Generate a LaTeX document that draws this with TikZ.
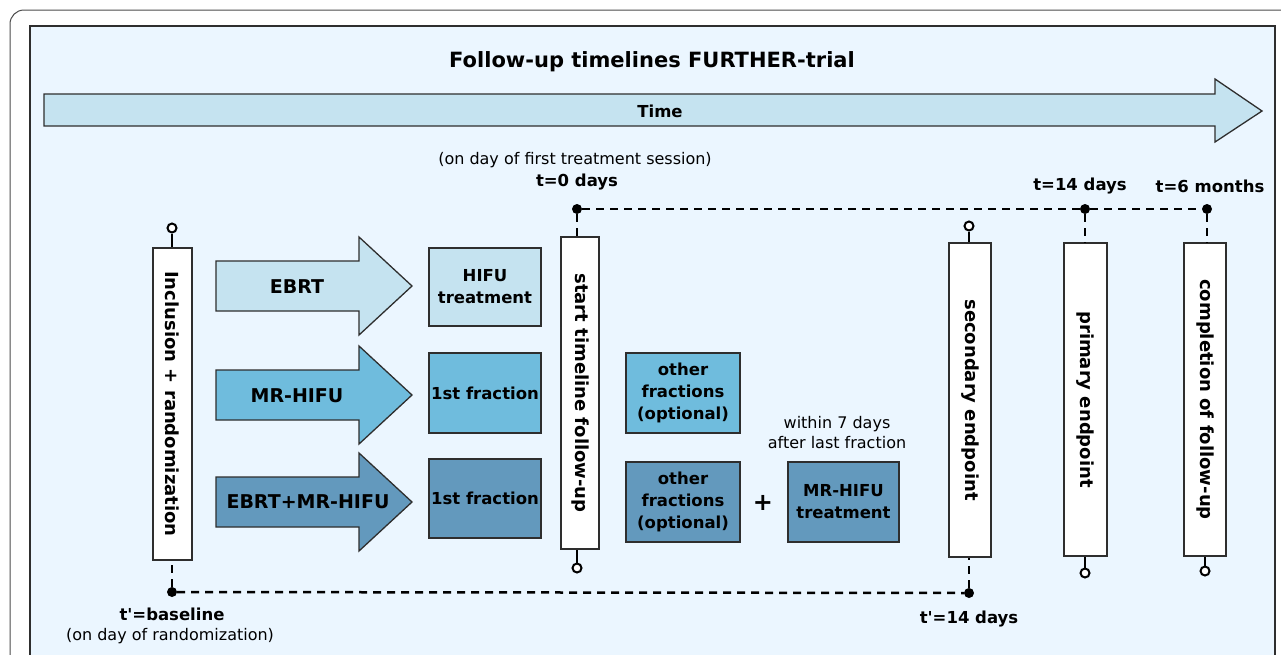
\documentclass[tikz,border=0pt]{standalone}
\usepackage{fontspec}
\setmainfont{DejaVu Sans}[Ligatures=TeXOff]
\usepackage{xcolor}
\definecolor{bgblue}{HTML}{EBF6FF}
\definecolor{lightarm}{HTML}{C5E3F0}
\definecolor{midarm}{HTML}{6FBCDD}
\definecolor{darkarm}{HTML}{6399BD}
\definecolor{edge}{HTML}{2E2E2E}
\tikzset{
	armshape/.style={draw=edge, line width=1.3pt},
	armtext/.style={font=\fontsize{19}{23}\selectfont\bfseries},
	stepbox/.style={draw=edge, line width=1.3pt, align=center, inner sep=0pt,
			font=\fontsize{16.5}{22}\selectfont\bfseries},
	tlbox/.style={draw=edge, fill=white, line width=1.3pt, rotate=-90, inner sep=0pt,
			font=\fontsize{18}{22}\selectfont\bfseries},
	dot/.style={circle, fill=black, inner sep=0pt, minimum size=10pt},
	opendot/.style={circle, draw=black, fill=white, line width=2pt, inner sep=0pt, minimum size=9pt},
	dashline/.style={dash pattern=on 8pt off 6pt, line width=2.5pt},
	solidline/.style={line width=2.5pt},
	notelabel/.style={font=\fontsize{16}{20}\selectfont},
	boldlabel/.style={font=\fontsize{16.5}{20}\selectfont\bfseries}
}
\usepackage{tikz}

\begin{document}
\begin{tikzpicture}[x=1pt, y=-1pt]
	\useasboundingbox (0,0) rectangle (1281,654);
	\clip (0,0) rectangle (1281,654);

	% frames
	\draw [gray!60!black, line width=1pt, rounded corners=14pt] (10,10) rectangle (1330,700);
	\filldraw [fill=bgblue, draw=edge, line width=1.2pt] (30,26) rectangle (1275,700);

	\node [boldlabel, font=\fontsize{21}{25}\selectfont\bfseries] (title) at (652,62) {Follow-up timelines FURTHER-trial};

	% time axis
	\filldraw [fill=lightarm, armshape]	(44,94) -- (1215,94) -- (1215,79) -- (1262,111)
						-- (1215,142) -- (1215,126) -- (44,126) -- cycle;
	\node [boldlabel] (time) at (660,111) {Time};

	% treatment arms
	\filldraw [fill=lightarm, armshape]	(216,261) -- ++(143,0) -- ++(0,-24) -- ++(53,49)
						-- ++(-53,49) -- ++(0,-24) -- ++(-143,0) -- cycle;
	\filldraw [fill=midarm, armshape]	(216,370) -- ++(143,0) -- ++(0,-24) -- ++(53,49)
						-- ++(-53,49) -- ++(0,-24) -- ++(-143,0) -- cycle;
	\filldraw [fill=darkarm, armshape]	(216,477) -- ++(143,0) -- ++(0,-24) -- ++(53,49)
						-- ++(-53,49) -- ++(0,-24) -- ++(-143,0) -- cycle;
	\node [armtext] (ebrt) at (297,287) {EBRT};
	\node [armtext] (mrhifu) at (297,396) {MR-HIFU};
	\node [armtext] (combo) at (308,502) {EBRT+MR-HIFU};

	\node [stepbox, fill=lightarm, minimum width=112pt, minimum height=78pt] (hifu) at (485,287) {HIFU\\treatment};
	\node [stepbox, fill=midarm, minimum width=112pt, minimum height=80pt] (firstmr) at (485,393) {1st fraction};
	\node [stepbox, fill=darkarm, minimum width=112pt, minimum height=79pt] (firstcombo) at (485,498.5) {1st fraction};
	\node [stepbox, fill=midarm, minimum width=114pt, minimum height=80pt] (othermr) at (683,393) {other\\fractions\\(optional)};
	\node [stepbox, fill=darkarm, minimum width=114pt, minimum height=80pt] (othercombo) at (683,502) {other\\fractions\\(optional)};
	\node [font=\fontsize{24}{24}\selectfont\bfseries] (plus) at (763,503) {+};
	\node [stepbox, fill=darkarm, minimum width=111pt, minimum height=80pt] (mrtreat) at (843.5,502) {MR-HIFU\\treatment};
	\node [notelabel, align=center] (within) at (837,433) {within 7 days\\after last fraction};

	% timeline boxes
	\node [tlbox, minimum width=312pt, minimum height=39pt] (incl) at (172.5,404) {Inclusion + randomization};
	\node [tlbox, minimum width=312pt, minimum height=38pt] (start) at (580,393) {start timeline follow-up};
	\node [tlbox, minimum width=314pt, minimum height=42pt] (second) at (970,400) {secondary endpoint};
	\node [tlbox, minimum width=313pt, minimum height=43pt] (prim) at (1085.5,399.5) {primary endpoint};
	\node [tlbox, minimum width=313pt, minimum height=42pt] (compl) at (1205,399.5) {completion of follow-up};

	% time points
	\node [dot] (dzero) at (577,209) {};
	\node [dot] (dfourteen) at (1085,209) {};
	\node [dot] (dsix) at (1207,209) {};
	\node [dot] (dbase) at (172,592) {};
	\node [dot] (dend) at (969,593) {};

	\node [opendot] (oincl) at (172,228) {};
	\node [opendot] (ostart) at (577,568) {};
	\node [opendot] (osecond) at (969,226) {};
	\node [opendot] (oprim) at (1085,573) {};
	\node [opendot] (ocompl) at (1205,571) {};

	\draw [dashline] (dzero) -- (dfourteen);
	\draw [dashline] (dfourteen) -- (dsix);
	\draw [dashline] (dbase) -- (dend);
	\draw [dashline] (dzero) -- (dzero |- start.west);
	\draw [dashline] (dfourteen) -- (dfourteen |- prim.west);
	\draw [dashline] (dsix) -- (dsix |- compl.west);
	\draw [dashline] (dbase) -- (dbase |- incl.east);
	\draw [dashline] (dend) -- (dend |- second.east);

	\draw [solidline] (oincl) -- (oincl |- incl.west);
	\draw [solidline] (ostart) -- (ostart |- start.east);
	\draw [solidline] (osecond) -- (osecond |- second.west);
	\draw [solidline] (oprim) -- (oprim |- prim.east);
	\draw [solidline] (ocompl) -- (ocompl |- compl.east);

	\node [notelabel] (session) at (575,160) {(on day of first treatment session)};
	\node [boldlabel] (tzero) at (577,182) {t=0 days};
	\node [boldlabel] (tfourteen) at (1080,186) {t=14 days};
	\node [boldlabel] (tsix) at (1210,186) {t=6 months};
	\node [boldlabel] (tbase) at (172,614) {t'=baseline};
	\node [notelabel] (tbasenote) at (170,636) {(on day of randomization)};
	\node [boldlabel] (tend) at (969,619) {t'=14 days};
\end{tikzpicture}
\end{document}
